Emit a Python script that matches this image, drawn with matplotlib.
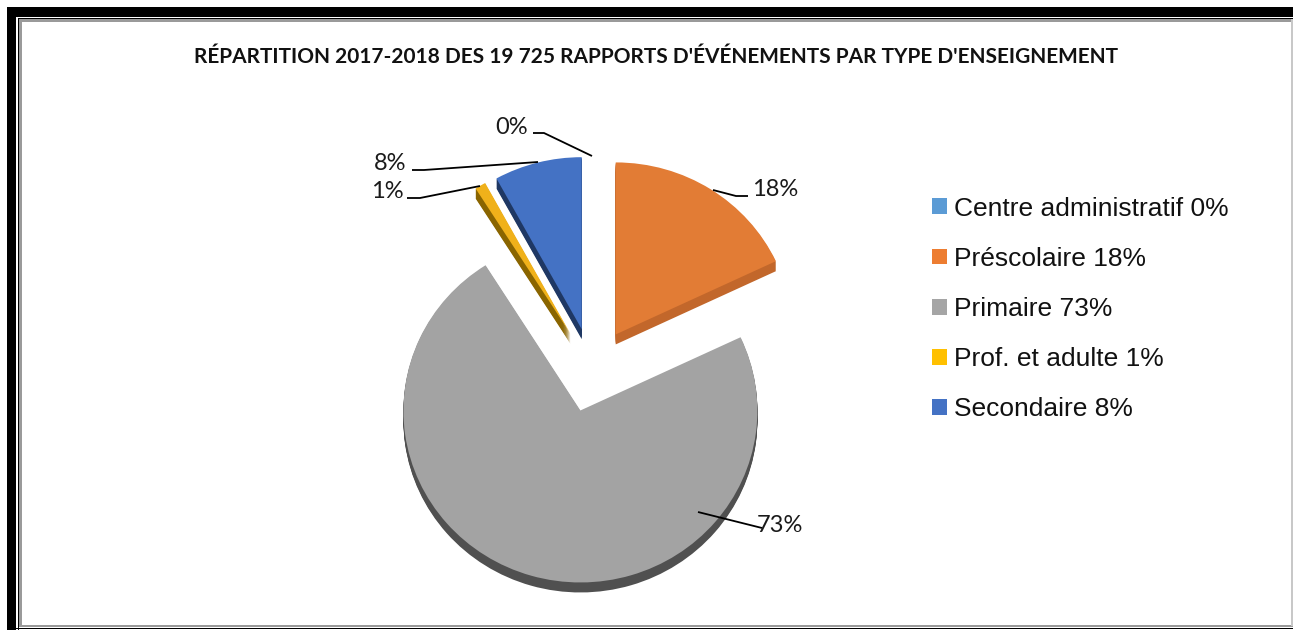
import matplotlib
matplotlib.use('Agg')
import matplotlib.pyplot as plt
from matplotlib.patches import Patch, Rectangle

title = "RÉPARTITION 2017-2018 DES 19 725 RAPPORTS D'ÉVÉNEMENTS PAR TYPE D'ENSEIGNEMENT"
categories = ['Centre administratif', 'Préscolaire', 'Primaire', 'Prof. et adulte', 'Secondaire']
values = [0, 18, 73, 1, 8]
colors = ['#5B9BD5', '#E27C35', '#A3A3A3', '#F0B11A', '#4472C4']
legend_colors = ['#5B9BD5', '#ED7D31', '#A5A5A5', '#FFC000', '#4472C4']
side_colors = ['#2E5F8F', '#C2672B', '#505050', '#8A6500', '#1F3864']
labels = [f'{v}%' for v in values]

W, H = 1293, 630
cx, cy = 592.5, 370   # pie centre in pixels
rx, ry = 177, 172     # tilted pie radii in pixels
depth = 10
explode = [0.245] * len(values)

fig = plt.figure(figsize=(W / 100, H / 100), dpi=100, facecolor='white')

# Pie axes: one data unit is the radius, different in x and y for the tilt
ax = fig.add_axes([0, 0, 1, 1])
for d in range(depth, 0, -1):
    ax.pie(values, explode=explode, colors=side_colors, startangle=90, counterclock=False,
           center=(0, -d / ry), wedgeprops={'linewidth': 0.6, 'edgecolor': 'none'}, normalize=True)
ax.pie(values, explode=explode, colors=colors, startangle=90, counterclock=False,
       wedgeprops={'linewidth': 0}, normalize=True)
ax.set_aspect('auto')
ax.set_xlim(-cx / rx, (W - cx) / rx)
ax.set_ylim(-(H - cy) / ry, cy / ry)
ax.axis('off')

# Overlay in pixel coordinates for the frame, leader lines and text
ov = fig.add_axes([0, 0, 1, 1])
ov.set_xlim(0, W)
ov.set_ylim(H, 0)
ov.axis('off')
ov.patch.set_alpha(0)

# Frame
ov.add_patch(Rectangle((7, 7), W - 7, 10, color='black', lw=0))
ov.add_patch(Rectangle((7, 7), 9, H - 7, color='black', lw=0))
ov.add_patch(Rectangle((17.5, 18), W, 1.2, color='black', lw=0))
ov.add_patch(Rectangle((17.5, 18), 1.2, H, color='black', lw=0))
ov.add_patch(Rectangle((19, 19), W, 2.5, color='#9a9a9a', lw=0))
ov.add_patch(Rectangle((19, 19), 2.5, 607, color='#9a9a9a', lw=0))
ov.add_patch(Rectangle((19, 624.5), W, 2.5, color='#9a9a9a', lw=0))
ov.add_patch(Rectangle((1291, 19), 1.5, 607, color='#c8c8c8', lw=0))
ov.add_patch(Rectangle((16, 628), W, 1.2, color='black', lw=0))
ov.add_patch(Rectangle((7, 629.5), W, 1, color='black', lw=0))

ov.text(656.5, 57, title, ha='center', va='center', fontsize=15.05, fontweight='bold',
        family='Lato', color='#111111')

# Leader lines and data labels
leaders = {
    '0%': [(533, 133), (544, 133), (592, 156)],
    '18%': [(713, 190), (736, 196), (748, 196)],
    '73%': [(698, 512), (762, 528)],
    '1%': [(407, 198), (420, 198), (480, 186)],
    '8%': [(412, 170), (424, 170), (538, 162)],
}
label_pos = {'0%': (512, 127.5), '18%': (775.5, 190), '73%': (779.5, 525), '1%': (387, 191.5), '8%': (390.5, 164)}
for lab in labels:
    xs, ys = zip(*leaders[lab])
    ov.plot(xs, ys, color='black', lw=1.3, solid_capstyle='butt')
    ov.text(*label_pos[lab], lab, ha='center', va='center', fontsize=17, family='Lato', color='#1a1a1a')

# Legend
handles = [Patch(facecolor=c, edgecolor='none') for c in legend_colors]
legend_labels = [f'{c} {v}%' for c, v in zip(categories, values)]
ov.legend(handles, legend_labels, loc='center left', bbox_to_anchor=(932 / W, 1 - 309 / H),
          bbox_transform=fig.transFigure, frameon=False, borderpad=0, borderaxespad=0,
          handlelength=0.55, handleheight=0.55, handletextpad=0.3, labelspacing=0.99,
          prop={'family': 'Liberation Sans', 'size': 19}, labelcolor='#111111')

fig.savefig('out.png', dpi=100)
